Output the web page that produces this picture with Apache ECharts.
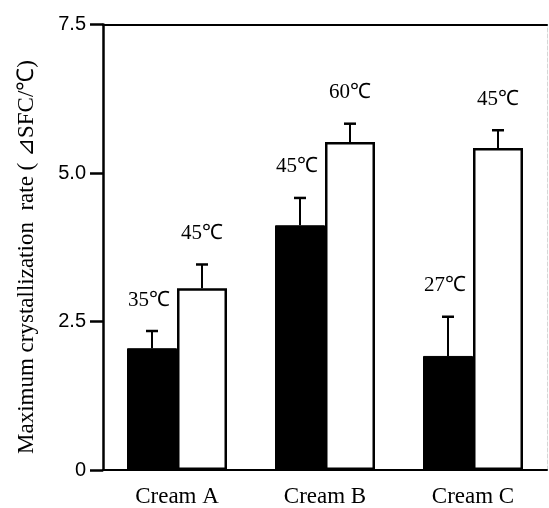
<!DOCTYPE html>
<html>
<head>
<meta charset="utf-8">
<script src="https://cdn.jsdelivr.net/npm/echarts@6/dist/echarts.min.js"></script>
<style>
  html, body { margin: 0; padding: 0; background: #fff; }
  #chart { width: 549px; height: 508px; }
</style>
</head>
<body>
<div id="chart"></div>
<script>
  // values
  const categories = ['Cream A', 'Cream B', 'Cream C'];
  const lowValues = [2.05, 4.12, 1.92];     // black bars
  const lowErrors = [0.29, 0.46, 0.66];
  const lowLabels = ['35℃', '45℃', '27℃'];
  const highValues = [3.06, 5.52, 5.42];    // white bars
  const highErrors = [0.40, 0.31, 0.30];
  const highLabels = ['45℃', '60℃', '45℃'];
  const yTicks = [0, 2.5, 5.0, 7.5];

  const serif = '"Liberation Serif", "Times New Roman", serif';
  const sans = '"Liberation Sans", Arial, sans-serif';
  const barW = 50;

  // error bar + temperature text, x offset is -1 (black) or +1 (white)
  function errorItem(values, errors, labels, side) {
    return {
      type: 'custom',
      z: 5,
      data: values.map((v, i) => [i, v, v + errors[i], labels[i]]),
      renderItem: function (params, api) {
        let base = api.coord([api.value(0), api.value(1)]);
        let top = api.coord([api.value(0), api.value(2)]);
        let x = base[0] + side * barW / 2;
        let style = { stroke: '#000', lineWidth: 2 };
        return {
          type: 'group',
          children: [
            { type: 'line', shape: { x1: x, y1: base[1], x2: x, y2: top[1] }, style: style },
            { type: 'line', shape: { x1: x - 6, y1: top[1], x2: x + 6, y2: top[1] }, style: { stroke: '#000', lineWidth: 2.5 } },
            {
              type: 'text',
              style: {
                x: x - (side < 0 ? 3 : 0),
                y: top[1] - 31,
                text: api.value(3),
                fontFamily: serif,
                fontSize: 21,
                fill: '#000',
                align: 'center',
                verticalAlign: 'middle'
              }
            }
          ]
        };
      }
    };
  }

  const chart = echarts.init(document.getElementById('chart'));
  chart.setOption({
    animation: false,
    backgroundColor: '#fff',
    grid: { left: 103, right: 2, top: 24.5, bottom: 35.5 },
    graphic: [{
      type: 'text',
      x: 27,
      y: 257,
      rotation: Math.PI / 2,
      style: {
        text: 'Maximum crystallization  rate ( ⊿SFC/℃)',
        fontFamily: serif,
        fontSize: 23,
        fill: '#000',
        align: 'center',
        verticalAlign: 'middle'
      }
    }],
    xAxis: [{
      type: 'category',
      data: categories,
      axisLine: { lineStyle: { color: '#000', width: 2 } },
      axisTick: { length: 13, lineStyle: { color: '#000', width: 2.5 } },
      axisLabel: { color: '#000', fontFamily: serif, fontSize: 23, margin: 15 }
    }, {
      type: 'category',
      position: 'top',
      data: categories,
      axisLine: { onZero: false, lineStyle: { color: '#000', width: 2 } },
      axisTick: { show: false },
      axisLabel: { show: false }
    }],
    yAxis: [{
      type: 'value',
      min: 0,
      max: 7.5,
      interval: 2.5,
      splitLine: { show: false },
      axisLine: { show: true, lineStyle: { color: '#000', width: 2.5 } },
      axisTick: { show: true, length: 13, lineStyle: { color: '#000', width: 2.5 } },
      axisLabel: {
        color: '#000',
        fontFamily: sans,
        fontSize: 20,
        margin: 17,
        formatter: function (v) {
          let i = yTicks.indexOf(v);
          return v === 0 ? '0' : yTicks[i].toFixed(1);
        }
      }
    }, {
      type: 'value',
      position: 'right',
      min: 0,
      max: 7.5,
      splitLine: { show: false },
      axisLine: { show: true, lineStyle: { color: '#d6d6d6', width: 1, type: 'dashed' } },
      axisTick: { show: false },
      axisLabel: { show: false }
    }],
    series: [{
      type: 'bar',
      data: lowValues,
      barWidth: barW,
      barGap: '0%',
      itemStyle: { color: '#000', borderColor: '#000', borderWidth: 1 }
    }, {
      type: 'bar',
      data: highValues,
      barWidth: barW,
      barGap: '0%',
      itemStyle: { color: '#fff', borderColor: '#000', borderWidth: 2.5 }
    },
      errorItem(lowValues, lowErrors, lowLabels, -1),
      errorItem(highValues, highErrors, highLabels, 1)
    ]
  });
</script>
</body>
</html>
